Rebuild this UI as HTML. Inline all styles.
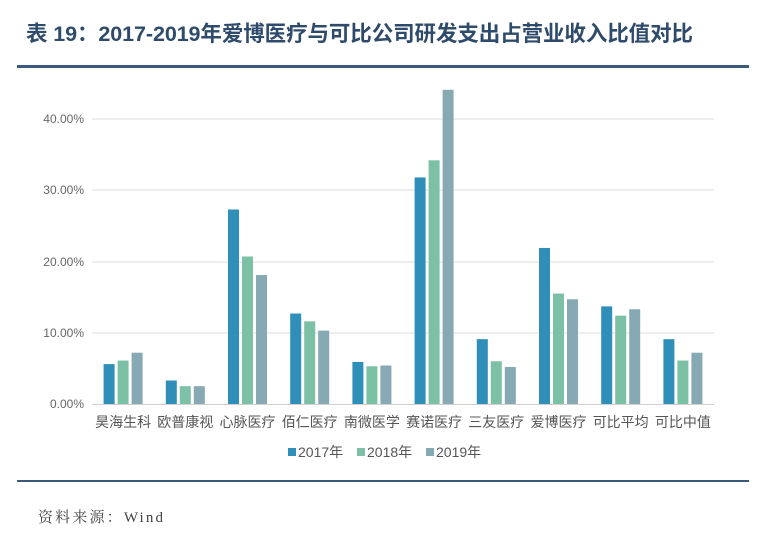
<!DOCTYPE html><html><head><meta charset="utf-8"><style>body{margin:0;background:#fff;width:779px;height:538px;overflow:hidden}</style></head><body>
<svg width="779" height="538" xmlns="http://www.w3.org/2000/svg" font-family="Liberation Sans, Noto Sans CJK SC, sans-serif">
<text x="26" y="41" font-size="21.5" font-weight="bold" fill="#2f4b6b" textLength="667">表 19：2017-2019年爱博医疗与可比公司研发支出占营业收入比值对比</text>
<rect x="17" y="65" width="732" height="3" fill="#3a5a7c"/>
<g stroke="#dcdcdc" stroke-width="1">
<line x1="92" x2="714" y1="119" y2="119"/><line x1="92" x2="714" y1="190" y2="190"/><line x1="92" x2="714" y1="262" y2="262"/><line x1="92" x2="714" y1="333" y2="333"/></g>
<line x1="92" x2="714" y1="404.5" y2="404.5" stroke="#cfcfcf"/>
<g font-size="12" fill="#666" text-anchor="end">
<text x="84" y="123">40.00%</text><text x="84" y="194">30.00%</text><text x="84" y="266">20.00%</text><text x="84" y="337">10.00%</text><text x="84" y="408">0.00%</text></g>
<g id="bars"></g>
<g font-size="14" fill="#555" text-anchor="middle" id="labels"></g>
<g font-size="14" fill="#555">
<rect x="288" y="448" width="8" height="8" fill="#2f8fb8"/><text x="298" y="457">2017年</text>
<rect x="357" y="448" width="8" height="8" fill="#7cc0a6"/><text x="367" y="457">2018年</text>
<rect x="426" y="448" width="8" height="8" fill="#86a9b4"/><text x="436" y="457">2019年</text></g>
<rect x="17" y="480" width="732" height="2" fill="#3a5a7c"/>
<text x="38" y="522" font-size="15" fill="#444" font-family="Liberation Serif, Noto Serif CJK SC, serif" textLength="125">资料来源：Wind</text>
</svg>
<script>
var d=[["昊海生科",5.6,6.1,7.2],["欧普康视",3.3,2.5,2.5],["心脉医疗",27.3,20.7,18.1],["佰仁医疗",12.7,11.6,10.3],["南微医学",5.9,5.3,5.4],["赛诺医疗",31.8,34.2,44.1],["三友医疗",9.1,6.0,5.2],["爱博医疗",21.9,15.5,14.7],["可比平均",13.7,12.4,13.3],["可比中值",9.1,6.1,7.2]];
var c=["#2f8fb8","#7cc0a6","#86a9b4"],b="",l="",w=62.2;
d.forEach(function(r,i){var cx=92+w*(i+0.5);for(var k=0;k<3;k++){var h=r[k+1]*7.125;b+='<rect x="'+(cx-19.5+k*14)+'" y="'+(404-h)+'" width="11" height="'+h+'" fill="'+c[k]+'"/>';}l+='<text x="'+cx+'" y="427">'+r[0]+'</text>';});
document.getElementById("bars").innerHTML=b;document.getElementById("labels").innerHTML=l;
</script>
</body></html>
